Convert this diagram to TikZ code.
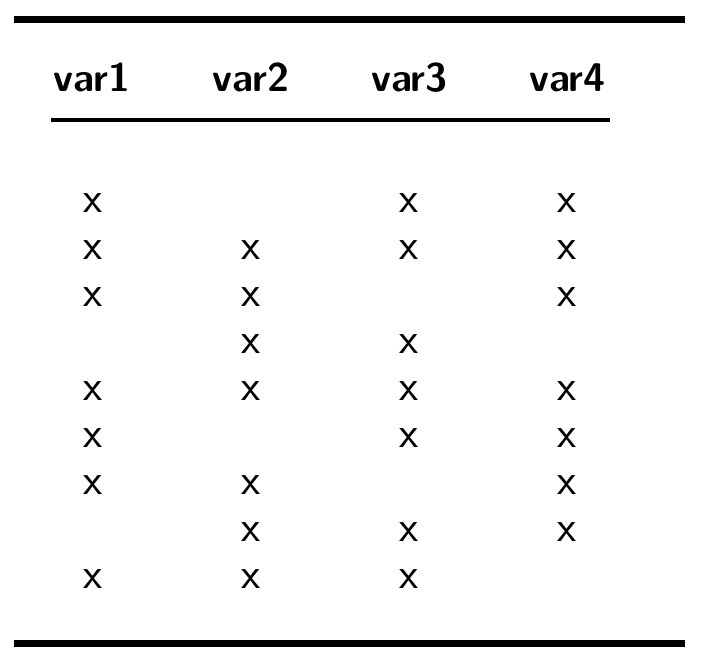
\documentclass[tikz,border=0pt]{standalone}
\usepackage{tikz}
\usetikzlibrary{positioning}
\tikzset{%
  % Specifications for style of nodes:
  head/.style = {inner sep=0pt, anchor=base,
    font=\sffamily\bfseries\fontsize{40}{48}\selectfont},
  cellmark/.style = {inner sep=0pt,
    font=\sffamily\fontsize{44}{52}\selectfont},
  thickrule/.style = {line width=6.6pt},
  midrule/.style = {line width=3.7pt},
}

\begin{document}
\begin{tikzpicture}[x=1pt,y=-1pt]
        \useasboundingbox[fill=white] (0,0) rectangle (702,662);
        % rules
        \draw[thickrule] (14,19.4) -- (685,19.4);
        \draw[midrule] (51,120) -- (610,120);
        \draw[thickrule] (14,643.4) -- (685,643.4);
        % Specification of header nodes
        \node(V1)[head] at (92,91) {var1};
        \node(V2)[head] at (251,91) {var2};
        \node(V3)[head] at (409.5,91) {var3};
        \node(V4)[head] at (567.5,91) {var4};
        % rows of marks
        \node(A1)[cellmark] at (93,203) {x};
        \node(A3)[cellmark] at (409,203) {x};
        \node(A4)[cellmark] at (567,203) {x};
        \node(B1)[cellmark] at (93,250) {x};
        \node(B2)[cellmark] at (251,250) {x};
        \node(B3)[cellmark] at (409,250) {x};
        \node(B4)[cellmark] at (567,250) {x};
        \node(C1)[cellmark] at (93,297) {x};
        \node(C2)[cellmark] at (251,297) {x};
        \node(C4)[cellmark] at (567,297) {x};
        \node(D2)[cellmark] at (251,344) {x};
        \node(D3)[cellmark] at (409,344) {x};
        \node(E1)[cellmark] at (93,391) {x};
        \node(E2)[cellmark] at (251,391) {x};
        \node(E3)[cellmark] at (409,391) {x};
        \node(E4)[cellmark] at (567,391) {x};
        \node(F1)[cellmark] at (93,438) {x};
        \node(F3)[cellmark] at (409,438) {x};
        \node(F4)[cellmark] at (567,438) {x};
        \node(G1)[cellmark] at (93,485) {x};
        \node(G2)[cellmark] at (251,485) {x};
        \node(G4)[cellmark] at (567,485) {x};
        \node(H2)[cellmark] at (251,532) {x};
        \node(H3)[cellmark] at (409,532) {x};
        \node(H4)[cellmark] at (567,532) {x};
        \node(I1)[cellmark] at (93,579) {x};
        \node(I2)[cellmark] at (251,579) {x};
        \node(I3)[cellmark] at (409,579) {x};
    \end{tikzpicture}
\end{document}
